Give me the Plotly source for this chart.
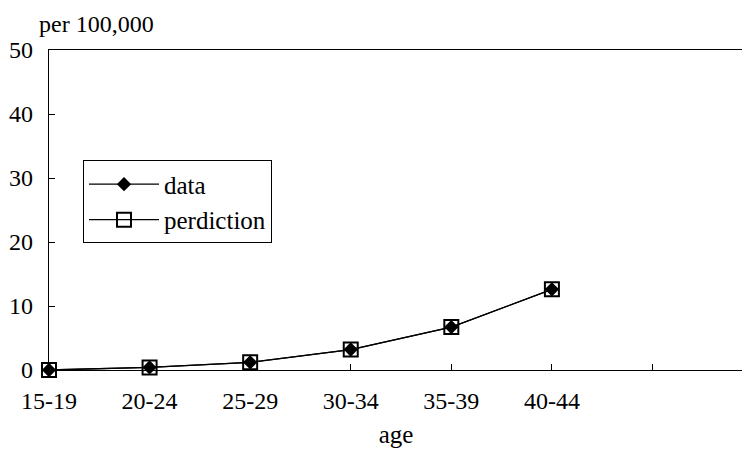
import plotly.graph_objects as go

ages = ["15-19", "20-24", "25-29", "30-34", "35-39", "40-44", ""]
data_vals = [0.0, 0.4, 1.2, 3.2, 6.7, 12.6]
pred_vals = [0.0, 0.4, 1.2, 3.2, 6.7, 12.6]
y_ticks = [0, 10, 20, 30, 40, 50]

xpos = list(range(len(data_vals)))
FAM = "Liberation Serif, Times New Roman, serif"
font = dict(family=FAM, size=24, color="black")

fig = go.Figure()
fig.add_trace(go.Scatter(
    x=xpos, y=data_vals, name="data", mode="lines+markers", cliponaxis=False,
    line=dict(color="black", width=1.3),
    marker=dict(symbol="diamond", size=11, color="black"),
))
fig.add_trace(go.Scatter(
    x=xpos, y=pred_vals, name="perdiction", mode="lines+markers", cliponaxis=False,
    line=dict(color="black", width=1.3),
    marker=dict(symbol="square-open", size=14, color="black", line=dict(width=2)),
))

# body has an 8px default margin, so margins are compensated
fig.update_layout(
    width=750, height=453,
    margin=dict(l=41, r=15, t=42, b=91, autoexpand=False),
    paper_bgcolor="white", plot_bgcolor="white",
    font=font,
    showlegend=True,
    legend=dict(x=0.049, y=0.655, xanchor="left", yanchor="top",
                bordercolor="black", borderwidth=1, bgcolor="white",
                font=dict(family=FAM, size=25),
                tracegroupgap=0, itemwidth=70),
    xaxis=dict(
        range=[0, 6.9], tickmode="array", tickvals=list(range(len(ages))), ticktext=ages,
        showgrid=False, zeroline=False, showline=True, linecolor="black", linewidth=1.3,
        mirror=True, ticks="inside", ticklen=6, tickcolor="black", automargin=False,
        title=dict(text="age", font=dict(family=FAM, size=25), standoff=12),
        tickfont=dict(family=FAM, size=24),
        ticklabelstandoff=9,
    ),
    yaxis=dict(
        range=[0, 50], tickmode="array", tickvals=y_ticks,
        showgrid=False, zeroline=False, showline=True, linecolor="black", linewidth=1.3,
        mirror=True, ticks="inside", ticklen=6, tickcolor="black", automargin=False,
        tickfont=dict(family=FAM, size=24),
        ticklabelstandoff=10,
    ),
    annotations=[dict(
        text="per 100,000", xref="paper", yref="paper", x=-0.018, y=1.081,
        xanchor="left", yanchor="middle", showarrow=False,
        font=dict(family=FAM, size=24),
    )],
)

fig.write_html("out.html")
